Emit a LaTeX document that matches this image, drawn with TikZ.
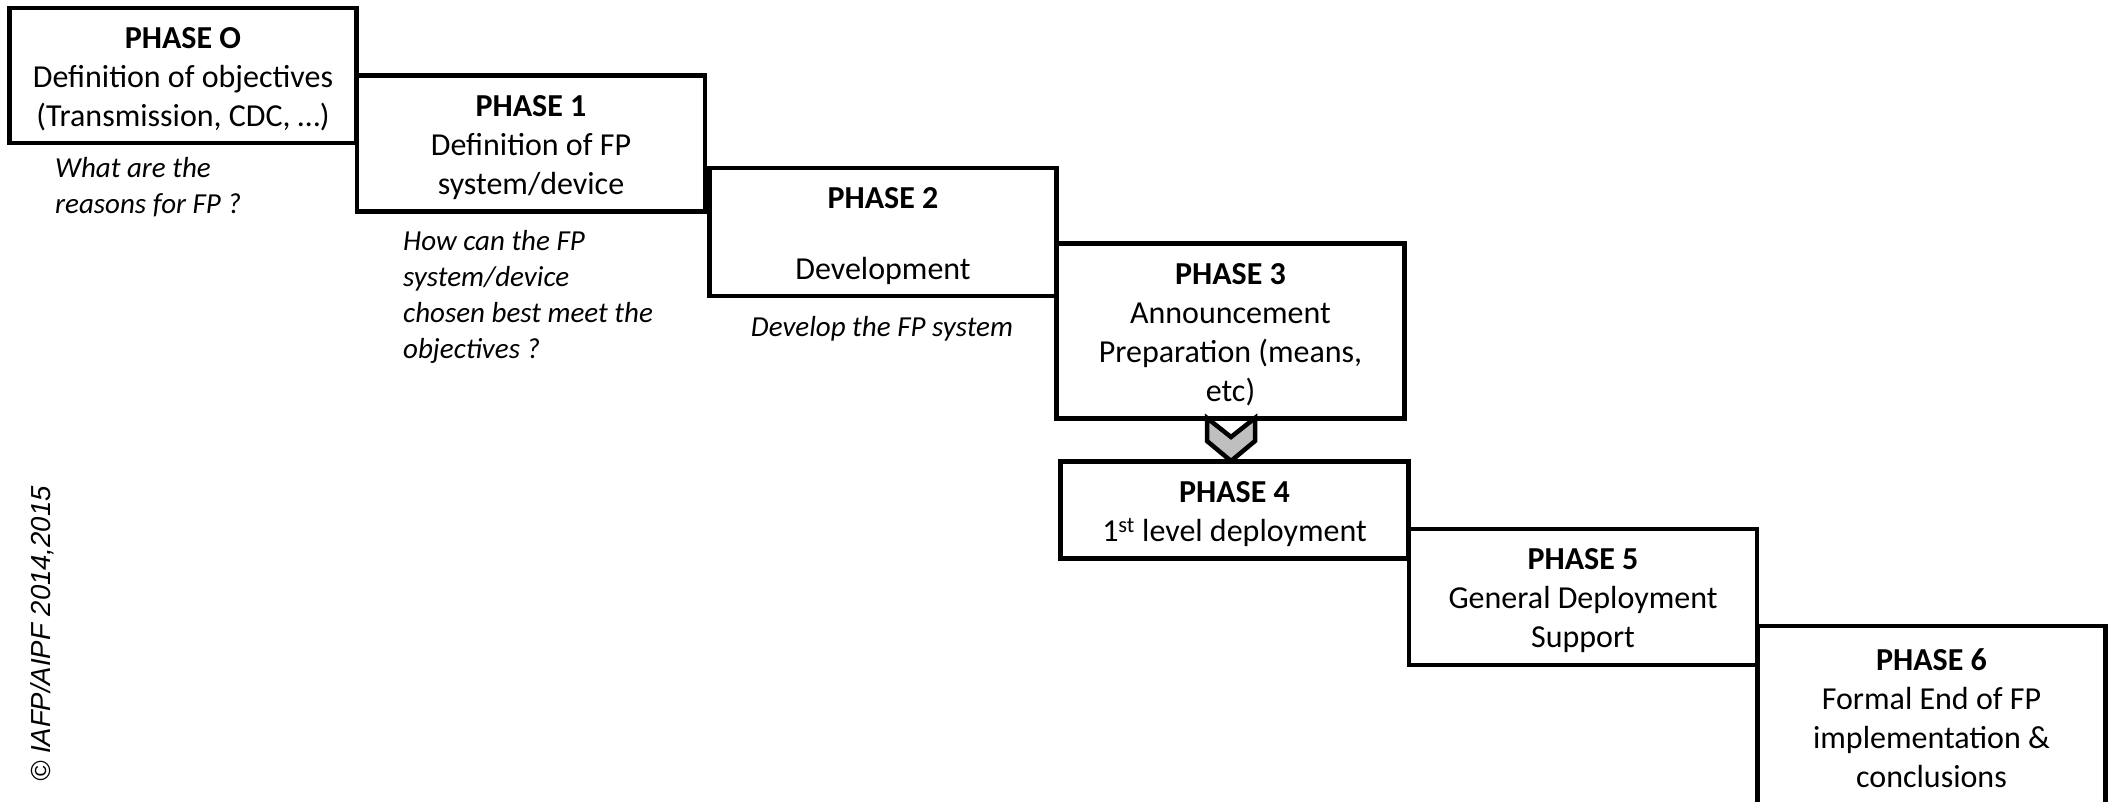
\documentclass[tikz,border=0pt]{standalone}
\usepackage{fontspec}
\setmainfont{Carlito}
\newfontfamily\copyfont{Liberation Sans}
\begin{document}
\begin{tikzpicture}[x=1pt,y=-1pt,
  phasebox/.style={draw=black, line width=4.5pt, inner sep=0pt},
  phasetext/.style={align=center, inner sep=0pt, yshift=-4pt,
    font=\fontsize{32}{39}\selectfont},
  note/.style={align=left, inner sep=0pt, anchor=north west,
    font=\fontsize{29}{36}\selectfont\itshape},
  chev/.style={draw=black, fill=black!25, line width=4.5pt, line join=miter}]
\useasboundingbox (0,0) rectangle (2110,801);
\clip (0,0) rectangle (2110,801);
% chevron between phase 3 and phase 4
\draw[chev] (1207,418) -- (1207,441) -- (1231,461) -- (1255,441) -- (1255,418) -- (1231,437) -- cycle;
% boxes
\node[phasebox, minimum width=347pt, minimum height=135pt] (p0) at (183,75.5) {};
\node[phasebox, minimum width=348pt, minimum height=136pt] (p1) at (531,143.5) {};
\node[phasebox, minimum width=347pt, minimum height=128pt] (p2) at (883,232) {};
\node[phasebox, minimum width=348pt, minimum height=175pt] (p3) at (1230.5,331) {};
\node[phasebox, minimum width=348pt, minimum height=97pt] (p4) at (1234.5,510) {};
\node[phasebox, minimum width=348pt, minimum height=136pt] (p5) at (1583,597) {};
\node[phasebox, minimum width=348pt, minimum height=182pt] (p6) at (1931.5,717) {};
% box texts
\node[phasetext] (t0) at (p0.center) {\textbf{PHASE O}\\Definition of objectives\\(Transmission, CDC, …)};
\node[phasetext] (t1) at (p1.center) {\textbf{PHASE 1}\\Definition of FP\\system/device};
\node[phasetext] (t2) at (p2.center) {\textbf{PHASE 2}\\[32pt]Development};
\node[phasetext] (t3) at (p3.center) {\textbf{PHASE 3}\\Announcement\\Preparation (means,\\etc)};
\node[phasetext] (t4) at (p4.center) {\textbf{PHASE 4}\\1\textsuperscript{st} level deployment};
\node[phasetext] (t5) at (p5.center) {\textbf{PHASE 5}\\General Deployment\\Support};
\node[phasetext, yshift=3pt] (t6) at (p6.center) {\textbf{PHASE 6}\\Formal End of FP\\implementation \&\\conclusions};
% notes
\node[note] (n0) at (55,157) {What are the\\reasons for FP ?};
\node[note] (n1) at (403,230) {How can the FP\\system/device\\chosen best meet the\\objectives ?};
\node[note, anchor=center] (n2) at (882,329) {Develop the FP system};
% copyright
\node[rotate=90, inner sep=0pt, font=\fontsize{27.5}{33}\selectfont\copyfont\itshape] (cr) at (42,634)
  {© IAFP/AIPF 2014,2015};
\end{tikzpicture}
\end{document}
